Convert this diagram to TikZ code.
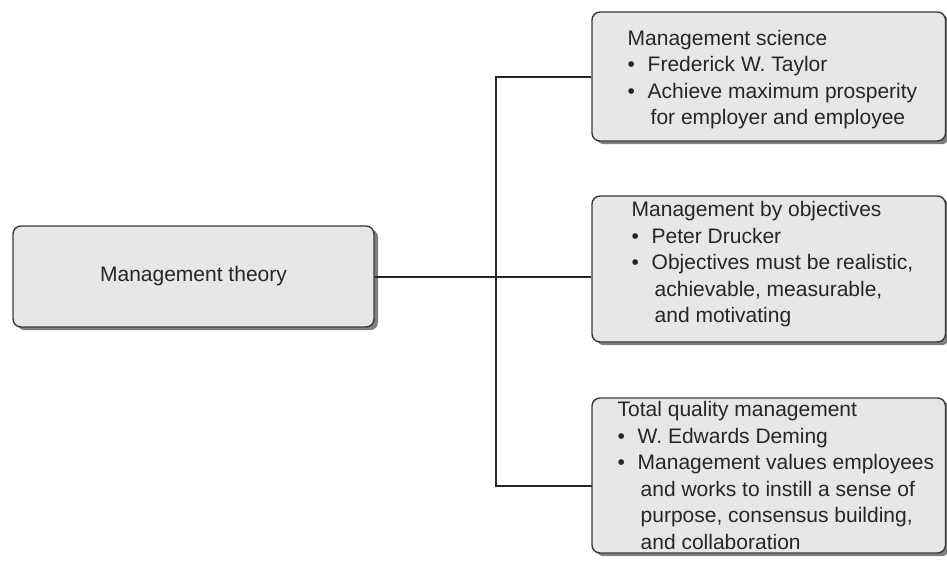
\documentclass[tikz,border=0pt]{standalone}
\usepackage{fontspec}
\setmainfont{Liberation Sans}
\usetikzlibrary{positioning,shadows}

\definecolor{boxfill}{HTML}{E6E7E7}
\definecolor{boxline}{HTML}{3A3A3A}
\definecolor{shade}{HTML}{7E7E7E}
\definecolor{ink}{HTML}{262626}

\newcommand{\bul}{\makebox[10pt][l]{\textbullet}}
\newcommand{\ind}{\hspace*{11.5pt}}

\begin{document}
\begin{tikzpicture}[
        x=0.5pt, y=-0.5pt,
        box/.style={
            draw=boxline,
            line width=0.7pt,
            fill=boxfill,
            rounded corners=4pt,
            inner sep=0pt,
            text=ink,
            font=\fontsize{10.5}{13.3}\selectfont,
            drop shadow={shadow xshift=2pt, shadow yshift=-1.6pt, fill=shade, opacity=1}
        },
        rbox/.style={box, minimum width=176.75pt},
        txt/.style={inner sep=0pt, align=left, text=ink, font=\fontsize{10.5}{13.3}\selectfont},
        conn/.style={draw=ink, line width=1pt}
    ]

        \useasboundingbox (0,0) rectangle (947,569);

        % levy box
        \node[box, minimum width=180.5pt, minimum height=50.5pt] (theory) at (193.5,276.5) {Management theory};

        % prave boxy
        \node[rbox, minimum height=64.5pt] (sci) at (768.75,76.5) {};
        \node[rbox, minimum height=73pt] (mbo) at (768.75,269) {};
        \node[rbox, minimum height=77.5pt] (tqm) at (768.75,475.5) {};

        % texty
        \node[txt, right=18pt of sci.west, yshift=-1.5pt] (sci-txt) {Management science\\
            \bul Frederick W. Taylor\\
            \bul Achieve maximum prosperity\\
            \ind for employer and employee};
        \node[txt, right=20pt of mbo.west, yshift=2.4pt] (mbo-txt) {Management by objectives\\
            \bul Peter Drucker\\
            \bul Objectives must be realistic,\\
            \ind achievable, measurable,\\
            \ind and motivating};
        \node[txt, right=13pt of tqm.west] (tqm-txt) {Total quality management\\
            \bul W. Edwards Deming\\
            \bul Management values employees\\
            \ind and works to instill a sense of\\
            \ind purpose, consensus building,\\
            \ind and collaboration};

        % spojnice
        \coordinate (fork) at (496,277);
        \coordinate (tqm-in) at (592,486);

        \draw[conn] (theory.east) -- (theory.east -| mbo.west);
        \draw[conn] (sci.west) -| (fork) |- (tqm-in);

    \end{tikzpicture}
\end{document}
